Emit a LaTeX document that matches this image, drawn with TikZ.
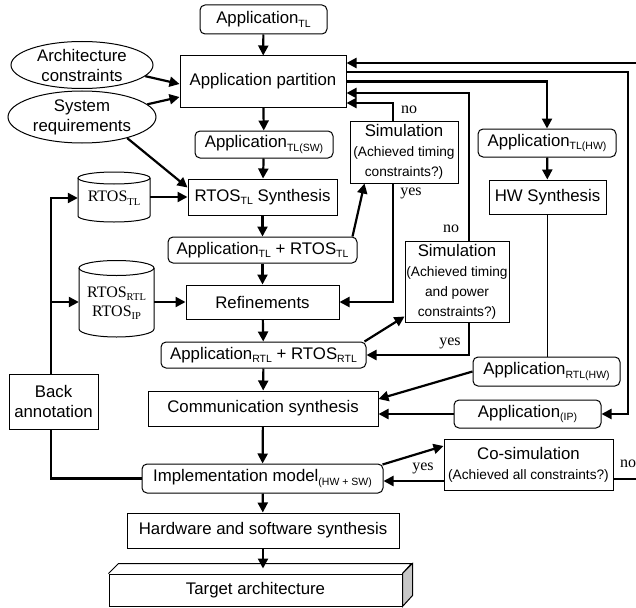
\documentclass[tikz,border=0pt]{standalone}
\usepackage{fontspec}
\setmainfont{Liberation Sans}
\newfontfamily\seriffam{Liberation Serif}
\usetikzlibrary{arrows.meta,shapes.geometric,calc}
\newcommand\fbig{\fontsize{16.8}{20}\selectfont}
\newcommand\fsm{\fontsize{13.7}{17}\selectfont}
\newcommand\lo[1]{\raisebox{-3.5pt}{\fontsize{10.5}{11}\selectfont #1}}
\begin{document}
\begin{tikzpicture}[x=1pt,y=-1pt]
\tikzset{
 base/.style={draw,line width=1pt,inner sep=0pt,font=\fbig,align=center},
 sq/.style={base},
 rnd/.style={base,rounded corners=5pt},
 ell/.style={base,ellipse},
 arr/.style={line width=2.2pt,-{Triangle[length=10pt,width=10pt]}},
 ln/.style={line width=2.2pt},
 thinln/.style={line width=1.5pt},
 lbl/.style={font=\seriffam\fontsize{16}{16}\selectfont,inner sep=0pt},
 cyl/.style={inner sep=0pt,font=\seriffam\fontsize{16}{19}\selectfont,align=center},
}
\useasboundingbox (0,0) rectangle (636,607);

% main column
\node[rnd,minimum width=127pt,minimum height=29pt] (appTL) at (263.5,19.5) {Application\lo{TL}};
\node[sq,minimum width=166pt,minimum height=51pt] (part) at (263,81.5) {Application partition};
\node[rnd,minimum width=138pt,minimum height=27pt] (appSW) at (264,144.5) {Application\lo{TL(SW)}};
\node[sq,minimum width=149pt,minimum height=36pt] (rtosSyn) at (262.5,197) {RTOS\lo{TL} Synthesis};
\node[rnd,minimum width=189pt,minimum height=26pt] (appRtosTL) at (262.5,250) {Application\lo{TL} + RTOS\lo{TL}};
\node[sq,minimum width=153pt,minimum height=34pt] (refine) at (262.5,302) {Refinements};
\node[rnd,minimum width=205pt,minimum height=26pt] (appRtosRTL) at (263.5,355) {Application\lo{RTL} + RTOS\lo{RTL}};
\node[sq,minimum width=230pt,minimum height=35pt] (comm) at (263,408.5) {Communication synthesis};
\node[rnd,minimum width=241pt,minimum height=29pt] (impl) at (262.5,478.5) {Implementation model\lo{(HW + SW)}};
\node[sq,minimum width=272pt,minimum height=35pt] (hwsw) at (263,530.5) {Hardware and software synthesis};
\node[sq,minimum width=293pt,minimum height=32pt] (target) at (255.5,590) {Target architecture};
\draw[line width=1pt] (target.north west) -- ++(10,-10) -- ++(293,0) -- (target.north east);
\filldraw[line width=1pt,fill=black!22] (target.north east) -- ++(10,-10) -- ++(0,32) -- (target.south east) -- cycle;

% left side
\node[ell,minimum width=142pt,minimum height=47pt] (arch) at (82,65) {Architecture\\constraints};
\node[ell,minimum width=148pt,minimum height=52pt] (sysreq) at (82,117) {System\\requirements};
\node[cyl,minimum width=72pt,minimum height=50pt] (rtosTL) at (114,198) {RTOS\lo{TL}};
\draw[line width=1pt] (114,178) ellipse[x radius=36pt,y radius=6pt];
\draw[line width=1pt] (78,178) -- (78,216) arc[start angle=180,end angle=360,x radius=36pt,y radius=6pt] -- (150,178);
\node[cyl,minimum width=75pt,minimum height=60pt] (rtosRTL) at (116.5,303) {RTOS\lo{RTL}\\RTOS\lo{IP}};
\draw[line width=1pt] (116.5,268) ellipse[x radius=37.5pt,y radius=7.5pt];
\draw[line width=1pt] (79,268) -- (79,329) arc[start angle=180,end angle=360,x radius=37.5pt,y radius=8pt] -- (154,268);
\node[sq,minimum width=89pt,minimum height=55pt] (back) at (53.5,401.5) {Back\\annotation};

% simulations
\node[sq,minimum width=108pt,minimum height=62pt] (sim1) at (404,152) {Simulation\\\fsm (Achieved timing\\\fsm constraints?)};
\node[sq,minimum width=104pt,minimum height=81pt] (sim2) at (457,281.5) {Simulation\\\fsm (Achieved timing\\\fsm and power\\\fsm constraints?)};
\node[sq,minimum width=169pt,minimum height=51pt] (cosim) at (528.5,464.5) {Co-simulation\\\fsm (Achieved all constraints?)};

% right column
\node[rnd,minimum width=138pt,minimum height=28pt] (appHW) at (547,143) {Application\lo{TL(HW)}};
\node[sq,minimum width=117pt,minimum height=34pt] (hwSyn) at (547.5,197) {HW Synthesis};
\node[rnd,minimum width=147pt,minimum height=29pt] (appRTLHW) at (546.5,371.5) {Application\lo{RTL(HW)}};
\node[rnd,minimum width=147pt,minimum height=28pt] (appIP) at (527.5,414) {Application\lo{(IP)}};

% labels
\node[lbl] (no1) at (409,110) {no};
\node[lbl] (yes1) at (411,193) {yes};
\node[lbl] (no2) at (451,229) {no};
\node[lbl] (yes2) at (450,343) {yes};
\node[lbl] (yes3) at (423,468) {yes};
\node[lbl] (no3) at (628,464) {no};

% coordinates
\coordinate (p63) at ([yshift=18.5pt]part.east);
\coordinate (rx1) at (628,0);
\coordinate (rx2) at (641,0);
\coordinate (bn) at ([xshift=-2.5pt]back.north);
\coordinate (bs) at ([xshift=-2.5pt]back.south);
\coordinate (tt) at ([yshift=5pt]hwsw.south |- target.north);

% main flow
\draw[arr] (appTL) -- (part);
\draw[arr] (part) -- (appSW);
\draw[arr] (appSW) -- (rtosSyn);
\draw[arr] (rtosSyn) -- (appRtosTL);
\draw[arr] (appRtosTL) -- (refine);
\draw[arr] (refine) -- (appRtosRTL);
\draw[arr] (appRtosRTL) -- (comm);
\draw[arr] (comm) -- (impl);
\draw[arr] (impl) -- (hwsw);
\draw[arr] (hwsw.south) -- (tt);

% inputs
\draw[arr] (arch.-10) -- ([yshift=-2.5pt]part.west);
\draw[arr] (sysreq.11) -- ([yshift=-15.5pt]part.west);
\draw[arr] (sysreq.-25) -- ([yshift=-9pt]rtosSyn.north west);
\draw[arr] (rtosTL.east |- rtosSyn.west) -- (rtosSyn.west);
\draw[arr] (rtosRTL.east |- refine.west) -- (refine.west);

% back annotation
\draw[ln] (impl.west) -| (bs);
\draw[arr] (bn) |- (rtosTL.west);
\draw[arr] (bn |- refine.west) -- (rtosRTL.west |- refine.west);

% simulation 1
\draw[arr] ([xshift=-5pt]appRtosTL.north east) -- ([xshift=15pt]sim1.south west);
\draw[arr] ([xshift=-11pt]sim1.north) |- ([yshift=-21.5pt]part.east);
\draw[arr] ([xshift=-11pt]sim1.south) |- (refine.east);

% simulation 2
\draw[arr] ([xshift=-2pt]appRtosRTL.north east) -- ([yshift=6pt]sim2.south west);
\draw[arr] ([xshift=12pt]sim2.north) |- ([yshift=-11.5pt]part.east);
\draw[arr] ([xshift=12pt]sim2.south) |- (appRtosRTL.east);

% right side
\draw[arr] (part.east) -| (appHW.north);
\draw[arr] (appHW) -- (hwSyn);
\draw[thinln] (hwSyn.south) -- (hwSyn.south |- appRTLHW.north);
\draw[arr] (appRTLHW.west) -- ([yshift=9.5pt]comm.east);
\draw[arr] (appIP.west) -- (appIP.west -| comm.east);
\draw[arr] ([yshift=9.5pt]part.east) -| (appIP.east -| rx1) -- (appIP.east);

% co-simulation
\draw[arr] ([xshift=-1pt,yshift=-1pt]impl.north east) -- ([yshift=-7.5pt]cosim.north west);
\draw[arr] ([yshift=-16.5pt]cosim.west) -- ([yshift=-16.5pt]cosim.west -| impl.east);
\draw[arr] ([yshift=-14.5pt]cosim.east) -| (p63 -| rx2) -- (p63);
\end{tikzpicture}
\end{document}
